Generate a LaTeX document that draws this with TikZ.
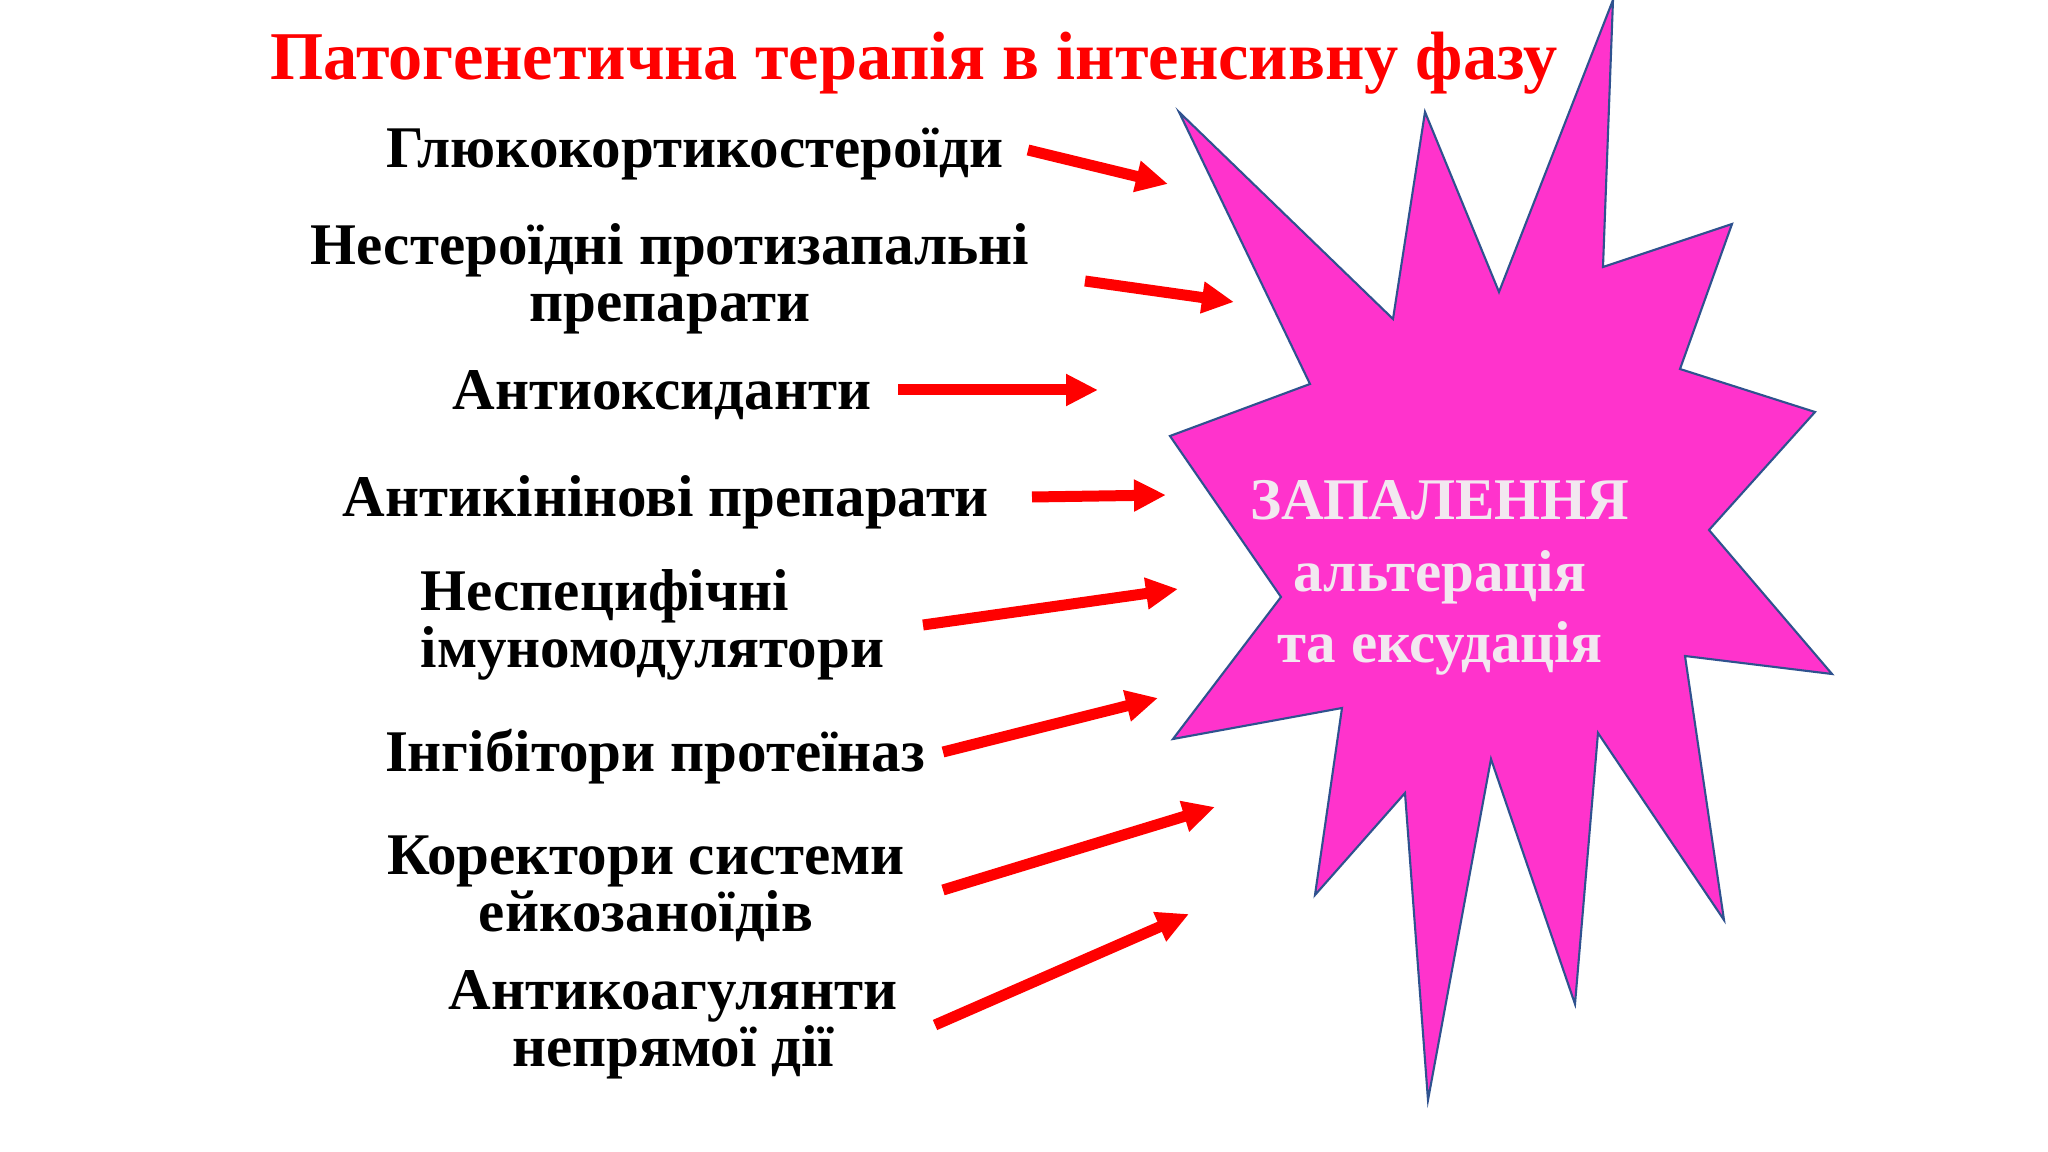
\documentclass[tikz,border=0pt]{standalone}
\usepackage{fontspec}
\setmainfont{Liberation Serif}
\usetikzlibrary{arrows.meta}

\definecolor{burst}{HTML}{FF33CC}
\definecolor{burstline}{HTML}{2F528F}
\definecolor{bursttext}{HTML}{F2E8F0}

\begin{document}
\begin{tikzpicture}
    \tikzstyle{every node}+=[inner sep=0pt]
    \tikzstyle{lbl}=[anchor=base, font=\fontsize{16.8}{16.5}\selectfont\bfseries, align=center]
    \tikzstyle{arr}=[red, line width=0.11cm, -{Triangle[length=0.32cm,width=0.30cm]}]
    \useasboundingbox [fill=white] (0,0) rectangle (20.48,-11.52);
    % title
    \draw (9.14,-0.80) node [anchor=base, red, font=\fontsize{19.45}{24}\selectfont\bfseries] (title) {Патогенетична терапія в інтенсивну фазу};
    % burst
    \draw [burstline, fill=burst, line width=0.6pt, line join=miter] (16.13,0.00) -- (14.99,-2.92) -- (14.25,-1.12) -- (13.93,-3.19)
        -- (11.79,-1.12) -- (13.10,-3.84) -- (11.70,-4.36) -- (12.81,-5.97) -- (11.73,-7.39) -- (13.42,-7.08)
        -- (13.15,-8.95) -- (14.05,-7.93) -- (14.28,-11.00) -- (14.91,-7.59) -- (15.75,-10.04) -- (15.98,-7.33)
        -- (17.24,-9.20) -- (16.85,-6.56) -- (18.32,-6.74) -- (17.09,-5.30) -- (18.15,-4.12) -- (16.80,-3.69)
        -- (17.32,-2.24) -- (16.03,-2.67) -- cycle;
    \draw (14.40,-6.63) node [anchor=base, bursttext, align=center, font=\fontsize{16.8}{20.4}\selectfont\bfseries] (zap)
        {ЗАПАЛЕННЯ\\альтерація\\та ексудація};
    % drugs (base = last line)
    \draw (6.95,-1.68) node [lbl] (gluko) {Глюкокортикостероїди};
    \draw (6.70,-3.22) node [lbl] (nsaid) {Нестероїдні протизапальні\\препарати};
    \draw (6.62,-4.10) node [lbl] (antiox) {Антиоксиданти};
    \draw (6.66,-5.17) node [lbl] (antikin) {Антикінінові препарати};
    \draw (4.20,-6.68) node [lbl, anchor=base west, align=left] (immun) {Неспецифічні\\імуномодулятори};
    \draw (6.55,-7.72) node [lbl] (inhib) {Інгібітори протеїназ};
    \draw (6.46,-9.32) node [lbl] (eikos) {Коректори системи\\ейкозаноїдів};
    \draw (6.73,-10.67) node [lbl] (coag) {Антикоагулянти\\непрямої дії};
    % arrows
    \coordinate (a1) at (10.28,-1.50); \coordinate (b1) at (11.68,-1.84);
    \coordinate (a2) at (10.85,-2.81); \coordinate (b2) at (12.34,-3.02);
    \coordinate (a3) at (8.98,-3.90);  \coordinate (b3) at (10.98,-3.90);
    \coordinate (a4) at (10.32,-4.97); \coordinate (b4) at (11.66,-4.95);
    \coordinate (a5) at (9.23,-6.25);  \coordinate (b5) at (11.78,-5.89);
    \coordinate (a6) at (9.43,-7.52);  \coordinate (b6) at (11.58,-6.98);
    \coordinate (a7) at (9.43,-8.90);  \coordinate (b7) at (12.15,-8.07);
    \coordinate (a8) at (9.35,-10.25); \coordinate (b8) at (11.89,-9.14);
    \foreach \i in {1,...,8}
        \draw [arr] (a\i) -- (b\i);
\end{tikzpicture}
\end{document}
